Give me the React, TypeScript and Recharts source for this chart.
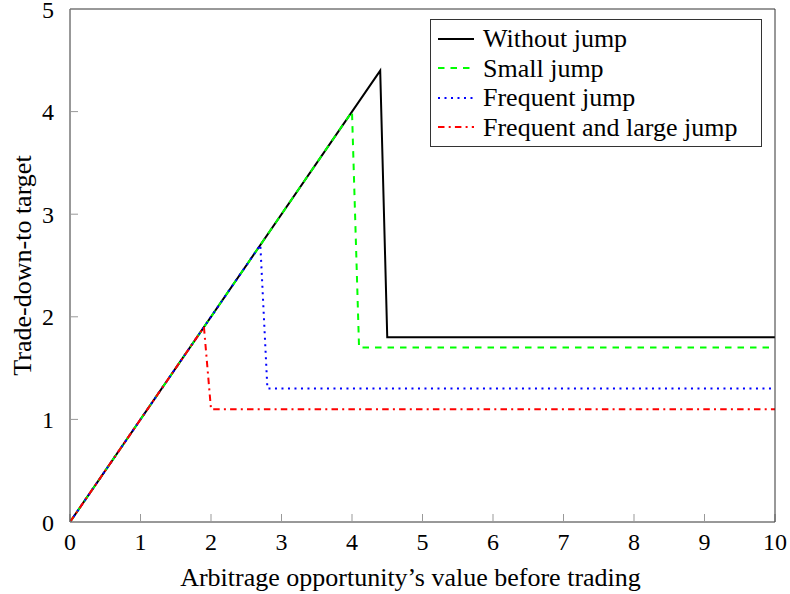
import React from 'react';
import { LineChart, Line, XAxis, YAxis, Legend } from 'recharts';

// tick values
const xTicks = [0, 1, 2, 3, 4, 5, 6, 7, 8, 9, 10];
const yTicks = [0, 1, 2, 3, 4, 5];

// series: arbitrage value (x) -> trade-down-to target (y)
const seriesNames = ['Without jump', 'Small jump', 'Frequent jump', 'Frequent and large jump'];
const withoutJump = [
  { x: 0, y: 0 },
  { x: 4.4, y: 4.4 },
  { x: 4.5, y: 1.8 },
  { x: 10, y: 1.8 },
];
const smallJump = [
  { x: 0, y: 0 },
  { x: 4, y: 4 },
  { x: 4.1, y: 1.7 },
  { x: 10, y: 1.7 },
];
const frequentJump = [
  { x: 0, y: 0 },
  { x: 2.7, y: 2.7 },
  { x: 2.8, y: 1.3 },
  { x: 10, y: 1.3 },
];
const frequentLargeJump = [
  { x: 0, y: 0 },
  { x: 1.9, y: 1.9 },
  { x: 2, y: 1.1 },
  { x: 10, y: 1.1 },
];

const seriesData = [withoutJump, smallJump, frequentJump, frequentLargeJump];

const lineStyles = [
  { stroke: '#000000', dash: undefined as string | undefined },
  { stroke: '#00ff00', dash: '6.5 6' },
  { stroke: '#0000ff', dash: '2 4.5' },
  { stroke: '#ff0000', dash: '6.5 4.2 2 4.2' },
];

const FRAME = '#333';
const fontCss =
  '.tex-chart, .tex-chart *, .tex-chart text, .tex-chart tspan { font-family: "Liberation Serif", "Times New Roman", Tinos, serif !important; }';

const LegendBox = () => (
  <div
    style={{
      boxSizing: 'border-box',
      width: 332,
      border: `1px solid ${FRAME}`,
      background: '#fff',
      padding: '4px 6px 4px 7px',
      fontSize: 26,
      color: '#000',
      lineHeight: '29.5px',
    }}
  >
    {seriesNames.map((name, i) => (
      <div key={name} style={{ display: 'flex', alignItems: 'center', whiteSpace: 'nowrap' }}>
        <svg width={36} height={10} style={{ marginRight: 9 }}>
          <line
            x1={0}
            y1={5}
            x2={36}
            y2={5}
            stroke={lineStyles[i].stroke}
            strokeWidth={2}
            strokeDasharray={lineStyles[i].dash}
          />
        </svg>
        <span>{name}</span>
      </div>
    ))}
  </div>
);

const YLabel = ({ viewBox }: any) => {
  const cy = viewBox.y + viewBox.height / 2;
  return (
    <text
      x={0}
      y={0}
      transform={`translate(${viewBox.x - 8}, ${cy}) rotate(-90)`}
      textAnchor="middle"
      dominantBaseline="central"
      fill="#000"
      fontSize={26}
    >
      Trade-down-to target
    </text>
  );
};

const XLabel = ({ viewBox }: any) => (
  <text
    x={viewBox.x + viewBox.width / 2 - 12}
    y={viewBox.y + 55}
    textAnchor="middle"
    dominantBaseline="central"
    fill="#000"
    fontSize={26}
  >
    Arbitrage opportunity’s value before trading
  </text>
);

const tickStyle = { fill: '#000', fontSize: 24 };
const blank = () => '';

export default function App() {
  return (
    <div
      className="tex-chart"
      style={{
        position: 'absolute',
        left: 0,
        top: 0,
        width: 790,
        height: 594,
        background: '#fff',
        fontFamily: '"Liberation Serif", serif',
      }}
    >
      <style>{fontCss}</style>
      <LineChart width={790} height={594} margin={{ top: 8, right: 14, bottom: 12, left: 30 }}>
        <XAxis
          xAxisId={0}
          type="number"
          dataKey="x"
          domain={[0, 10]}
          ticks={xTicks}
          interval={0}
          height={60}
          tickSize={-8}
          tickMargin={19}
          tickLine={{ stroke: '#999' }}
          axisLine={{ stroke: FRAME }}
          tick={tickStyle}
          label={{ content: XLabel }}
          allowDataOverflow
        />
        <XAxis
          xAxisId="top"
          orientation="top"
          type="number"
          dataKey="x"
          domain={[0, 10]}
          ticks={xTicks}
          interval={0}
          height={1}
          tickSize={-8}
          tickLine={{ stroke: '#999' }}
          axisLine={{ stroke: FRAME }}
          tickFormatter={blank}
        />
        <YAxis
          yAxisId={0}
          type="number"
          dataKey="y"
          domain={[0, 5]}
          ticks={yTicks}
          interval={0}
          width={40}
          tickSize={-8}
          tickMargin={24}
          tickLine={{ stroke: '#999' }}
          axisLine={{ stroke: FRAME }}
          tick={tickStyle}
          label={{ content: YLabel }}
          allowDataOverflow
        />
        <YAxis
          yAxisId="right"
          orientation="right"
          type="number"
          domain={[0, 5]}
          ticks={yTicks}
          interval={0}
          width={1}
          tickSize={-8}
          tickLine={{ stroke: '#999' }}
          axisLine={{ stroke: FRAME }}
          tickFormatter={blank}
        />
        {seriesData.map((d, i) => (
          <Line
            key={seriesNames[i]}
            data={d}
            dataKey="y"
            name={seriesNames[i]}
            type="linear"
            stroke={lineStyles[i].stroke}
            strokeWidth={2}
            strokeDasharray={lineStyles[i].dash}
            dot={false}
            activeDot={false}
            isAnimationActive={false}
          />
        ))}
        <Legend
          layout="horizontal"
          verticalAlign="middle"
          align="center"
          content={() => <LegendBox />}
          wrapperStyle={{ top: 19, left: 430, width: 'auto' }}
        />
      </LineChart>
    </div>
  );
}
